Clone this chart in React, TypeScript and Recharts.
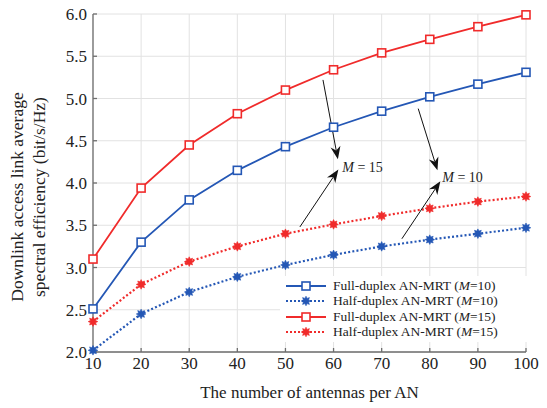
import React from "react";
import {
  CartesianGrid,
  Legend,
  Line,
  LineChart,
  ReferenceDot,
  ReferenceLine,
  XAxis,
  YAxis,
} from "recharts";

const antennas = [10, 20, 30, 40, 50, 60, 70, 80, 90, 100];
const fullM10 = [2.51, 3.3, 3.8, 4.15, 4.43, 4.66, 4.85, 5.02, 5.17, 5.31];
const halfM10 = [2.02, 2.45, 2.71, 2.89, 3.03, 3.15, 3.25, 3.33, 3.4, 3.47];
const fullM15 = [3.1, 3.94, 4.45, 4.82, 5.1, 5.34, 5.54, 5.7, 5.85, 5.99];
const halfM15 = [2.36, 2.8, 3.07, 3.25, 3.4, 3.51, 3.61, 3.7, 3.78, 3.84];

const xTicks = [10, 20, 30, 40, 50, 60, 70, 80, 90, 100];
const yTicks = [2.0, 2.5, 3.0, 3.5, 4.0, 4.5, 5.0, 5.5, 6.0];

// annotation arrows, in data coordinates: [x1, y1, x2, y2]
const arrows = [
  [57.8, 5.22, 60.9, 4.28],
  [53.0, 3.48, 61.0, 4.16],
  [77.6, 4.88, 81.6, 4.15],
  [74.2, 3.34, 82.2, 4.02],
];
const arrowLabels = [
  { x: 61.8, y: 4.19, m: "15" },
  { x: 82.6, y: 4.07, m: "10" },
];

const BLUE = "#2457b5";
const RED = "#f02b2b";
const FONT = '"Liberation Serif", "Times New Roman", serif';

const data = antennas.map((n, i) => ({
  n,
  fullM10: fullM10[i],
  halfM10: halfM10[i],
  fullM15: fullM15[i],
  halfM15: halfM15[i],
}));

const series = [
  { key: "fullM10", color: BLUE, dotted: false, label: "10" },
  { key: "halfM10", color: BLUE, dotted: true, label: "10" },
  { key: "fullM15", color: RED, dotted: false, label: "15" },
  { key: "halfM15", color: RED, dotted: true, label: "15" },
];

function Square({ cx, cy, color }: { cx: number; cy: number; color: string }) {
  return <rect x={cx - 4} y={cy - 4} width={8} height={8} fill="#fff" stroke={color} strokeWidth={1.6} />;
}

function Star({ cx, cy, color }: { cx: number; cy: number; color: string }) {
  const pts: string[] = [];
  for (let k = 0; k < 16; k++) {
    const r = k % 2 === 0 ? 4.8 : 2.8;
    const a = (Math.PI / 8) * k - Math.PI / 2;
    pts.push(`${cx + r * Math.cos(a)},${cy + r * Math.sin(a)}`);
  }
  return <polygon points={pts.join(" ")} fill={color} stroke={color} strokeWidth={0.6} />;
}

function Arrow(props: any) {
  const { x1, y1, x2, y2 } = props;
  const dx = x2 - x1;
  const dy = y2 - y1;
  const len = Math.sqrt(dx * dx + dy * dy);
  const ux = dx / len;
  const uy = dy / len;
  const L = 13;
  const W = 5;
  const bx = x2 - ux * L;
  const by = y2 - uy * L;
  const nx = x2 - ux * L * 0.7;
  const ny = y2 - uy * L * 0.7;
  const head = `${x2},${y2} ${bx - uy * W},${by + ux * W} ${nx},${ny} ${bx + uy * W},${by - ux * W}`;
  return (
    <g>
      <line x1={x1} y1={y1} x2={nx} y2={ny} stroke="#111" strokeWidth={1} />
      <polygon points={head} fill="#111" />
    </g>
  );
}

function MLabel(m: string) {
  return (props: any) => (
    <text x={props.cx} y={props.cy} dy="0.35em" fontFamily={FONT} fontSize={14} fill="#222">
      <tspan fontStyle="italic">M</tspan>
      <tspan> = {m}</tspan>
    </text>
  );
}

function LegendBox() {
  return (
    <div style={{ background: "#fff", padding: "2px 4px", fontFamily: FONT, fontSize: 13.5, color: "#222" }}>
      {series.map((s) => (
        <div key={s.key} style={{ display: "flex", alignItems: "center", height: 15.5 }}>
          <svg width={44} height={12} style={{ marginRight: 5 }}>
            <line
              x1={2}
              y1={6}
              x2={42}
              y2={6}
              stroke={s.color}
              strokeWidth={s.dotted ? 2 : 1.8}
              strokeDasharray={s.dotted ? "2 2" : undefined}
            />
            {s.dotted ? <Star cx={22} cy={6} color={s.color} /> : <Square cx={22} cy={6} color={s.color} />}
          </svg>
          <span>
            {s.dotted ? "Half" : "Full"}-duplex AN-MRT (<i>M</i>={s.label})
          </span>
        </div>
      ))}
    </div>
  );
}

function YLabel(props: any) {
  const { viewBox } = props;
  const cx = 23;
  const cy = viewBox.y + viewBox.height / 2 + 14;
  return (
    <text
      transform={`rotate(-90, ${cx}, ${cy})`}
      x={cx}
      y={cy}
      textAnchor="middle"
      fontFamily={FONT}
      fontSize={17.5}
      fill="#222"
    >
      <tspan x={cx} dy="0">Downlink access link average</tspan>
      <tspan x={cx} dy="22">spectral efficiency (bit/s/Hz)</tspan>
    </text>
  );
}

const tickStyle = { fontFamily: FONT, fontSize: 17, fill: "#222" };
const FRAME = "#6e6e6e";

export default function App() {
  return (
    <div style={{ width: 547, height: 408, background: "#fff" }}>
      <style>{`body{margin:0}`}</style>
      <LineChart width={547} height={408} data={data} margin={{ top: 14, right: 21, bottom: 0, left: 0 }}>
        <CartesianGrid stroke="#e2e2e2" strokeWidth={1} />
        <XAxis
          dataKey="n"
          type="number"
          domain={[10, 100]}
          ticks={xTicks}
          tick={tickStyle}
          tickSize={-4}
          tickMargin={9}
          height={56}
          stroke={FRAME}
          strokeWidth={1.3}
          label={{
            value: "The number of antennas per AN",
            position: "insideBottom",
            offset: 10,
            style: { fontFamily: FONT, fontSize: 17, fill: "#222" },
          }}
        />
        <XAxis
          xAxisId="top"
          orientation="top"
          dataKey="n"
          type="number"
          domain={[10, 100]}
          ticks={xTicks}
          tick={false}
          tickSize={-4}
          height={0}
          stroke={FRAME}
          strokeWidth={1.3}
        />
        <YAxis
          type="number"
          domain={[2, 6]}
          ticks={yTicks}
          tickFormatter={(v: number) => v.toFixed(1)}
          tick={tickStyle}
          tickSize={-4}
          tickMargin={10}
          width={93}
          stroke={FRAME}
          strokeWidth={1.3}
          label={<YLabel />}
        />
        <YAxis
          yAxisId="right"
          orientation="right"
          type="number"
          domain={[2, 6]}
          ticks={yTicks}
          tick={false}
          tickSize={-4}
          width={0}
          stroke={FRAME}
          strokeWidth={1.3}
        />
        {series.map((s) => (
          <Line
            key={s.key}
            dataKey={s.key}
            type="linear"
            stroke={s.color}
            strokeWidth={s.dotted ? 2.2 : 1.8}
            strokeDasharray={s.dotted ? "2 2.2" : undefined}
            isAnimationActive={false}
            dot={(p: any) =>
              s.dotted ? (
                <Star key={p.index} cx={p.cx} cy={p.cy} color={s.color} />
              ) : (
                <Square key={p.index} cx={p.cx} cy={p.cy} color={s.color} />
              )
            }
            activeDot={false}
          />
        ))}
        {arrows.map((a, i) => (
          <ReferenceLine
            key={`arrow-${i}`}
            segment={[
              { x: a[0], y: a[1] },
              { x: a[2], y: a[3] },
            ]}
            shape={Arrow}
          />
        ))}
        {arrowLabels.map((l) => (
          <ReferenceDot key={`lbl-${l.m}`} x={l.x} y={l.y} r={0} shape={MLabel(l.m)} />
        ))}
        <Legend
          layout="vertical"
          align="center"
          verticalAlign="middle"
          content={<LegendBox />}
          wrapperStyle={{ position: "absolute", left: 280, top: 276, width: 252 }}
        />
      </LineChart>
    </div>
  );
}
